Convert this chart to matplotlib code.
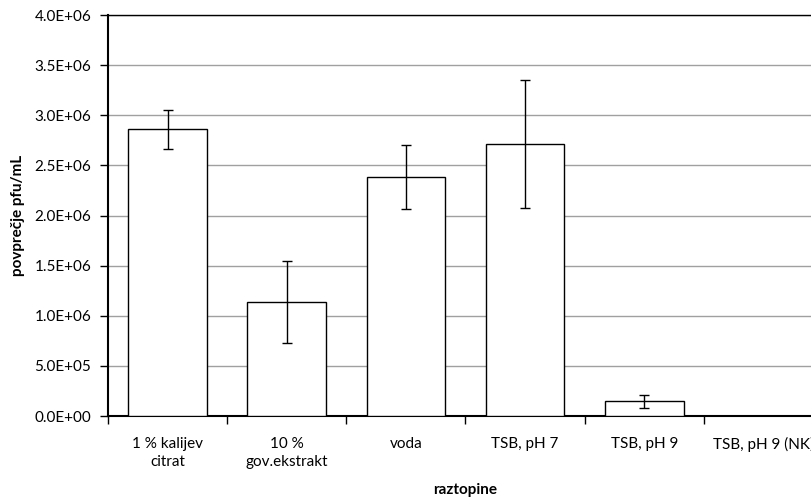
import numpy as np
import matplotlib
matplotlib.use("Agg")
import matplotlib.pyplot as plt
from matplotlib.ticker import FuncFormatter, MultipleLocator

categories = ["1 % kalijev\ncitrat", "10 %\ngov.ekstrakt", "voda",
              "TSB, pH 7", "TSB, pH 9", "TSB, pH 9 (NK)"]
means = [2.86e6, 1.137e6, 2.384e6, 2.713e6, 1.45e5, 0.0]
errors = [0.197e6, 0.41e6, 0.318e6, 0.64e6, 0.065e6, 0.0]

plt.rcParams['font.family'] = ['Lato', 'DejaVu Sans']

fig = plt.figure(figsize=(8.11, 4.97), dpi=100)
ax = fig.add_axes([108/811, 81/497, 715/811, 401/497])

x = np.arange(len(categories))
ax.bar(x[:5], means[:5], width=0.66, color='white', edgecolor='black', linewidth=1.0, zorder=3)
ax.errorbar(x[:5], means[:5], yerr=errors[:5], fmt='none', ecolor='black',
            elinewidth=1.0, capsize=3.5, capthick=1.0, zorder=4)

ax.set_xlim(-0.5, len(categories) - 0.5)
ax.set_ylim(0, 4.0e6)
ax.yaxis.set_major_locator(MultipleLocator(5e5))
ax.yaxis.set_major_formatter(FuncFormatter(lambda v, p: f"{v:.1E}"))
ax.yaxis.grid(True, color='#a0a0a0', linewidth=1.0, zorder=0)

ax.set_xticks(x)
ax.set_xticklabels(categories, linespacing=1.4)
ax.set_xticks(np.arange(-0.5, len(categories)), minor=True)
ax.tick_params(axis='x', which='major', length=0, pad=15, labelsize=11)
ax.tick_params(axis='x', which='minor', length=6, width=1, direction='out')
ax.tick_params(axis='y', length=6, width=1, direction='out', labelsize=11, pad=6)

for s in ['left', 'bottom']:
    ax.spines[s].set_linewidth(1.5)
ax.spines['top'].set_linewidth(1.0)
ax.spines['right'].set_visible(False)

ax.set_ylabel("povprečje pfu/mL", fontsize=11, fontweight='bold', labelpad=7)
ax.set_xlabel("raztopine", fontsize=11, fontweight='bold', labelpad=10)

plt.savefig("out.png", dpi=100)
